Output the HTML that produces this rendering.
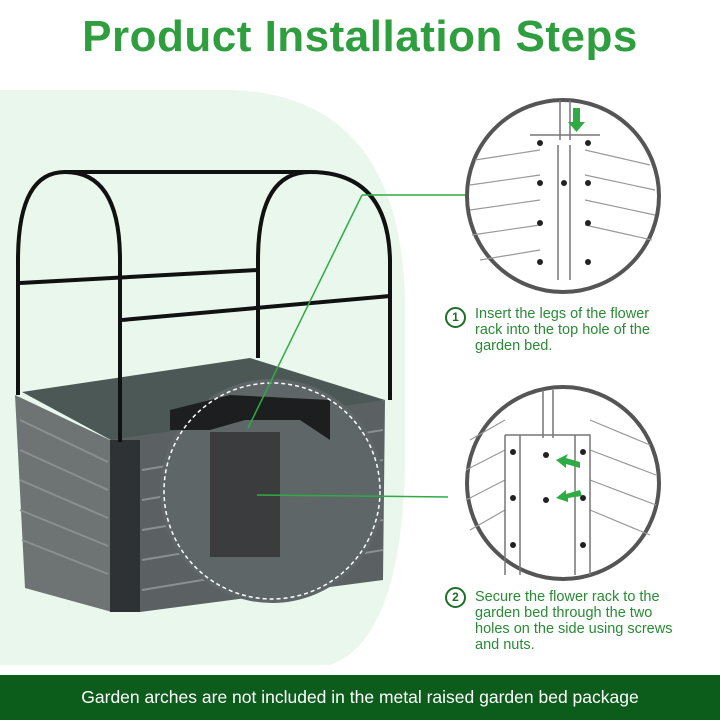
<!DOCTYPE html>
<html><head><meta charset="utf-8"><style>
body{margin:0;width:720px;height:720px;overflow:hidden;background:#fff;font-family:"Liberation Sans",sans-serif;position:relative}
.t{position:absolute;left:0;width:720px;top:12px;text-align:center;font-weight:bold;font-size:44px;color:#2e9e3e;letter-spacing:0.5px}
.s{position:absolute;left:475px;color:#2a8a35;font-size:14.5px;line-height:16px}
.n{position:absolute;left:445px;width:17px;height:17px;border:2px solid #1e6e28;border-radius:50%;color:#1e6e28;font-size:12px;font-weight:bold;text-align:center;line-height:17px}
.b{position:absolute;left:0;top:675px;width:720px;height:45px;background:#0c5c1c;color:#fff;font-size:17.5px;text-align:center;line-height:45px}
</style></head><body>
<svg width="720" height="720" style="position:absolute;left:0;top:0">
<path d="M0 90 H230 Q400 95 405 300 V470 Q400 640 330 665 H0 Z" fill="#eaf7ec"/>
<polygon points="22,392 250,358 385,400 120,445" fill="#4c5856"/>
<polygon points="15,395 110,440 112,612 25,588" fill="#6e7473"/>
<polygon points="110,440 385,400 383,580 140,612 112,612" fill="#5b6163"/>
<rect x="110" y="440" width="30" height="172" fill="#2f3234"/>
<g stroke="#8a8f90" stroke-width="2">
<line x1="20" y1="420" x2="108" y2="462"/><line x1="20" y1="450" x2="108" y2="490"/><line x1="20" y1="480" x2="108" y2="518"/><line x1="20" y1="510" x2="108" y2="546"/><line x1="22" y1="540" x2="108" y2="574"/>
<line x1="142" y1="470" x2="383" y2="430"/><line x1="142" y1="500" x2="383" y2="460"/><line x1="142" y1="530" x2="383" y2="490"/><line x1="142" y1="560" x2="383" y2="520"/><line x1="142" y1="590" x2="383" y2="550"/>
</g>
<g stroke="#111" stroke-width="4" fill="none">
<path d="M18 395 V260 Q18 172 65 172 Q120 172 120 260 V442"/>
<path d="M258 358 V260 Q258 172 310 172 Q388 172 390 260 V400"/>
<line x1="65" y1="172" x2="310" y2="172"/>
<line x1="20" y1="283" x2="258" y2="270"/>
<line x1="122" y1="320" x2="390" y2="296"/>
</g>
<circle cx="272" cy="491" r="112" fill="#5f6668"/>
<polygon points="170,430 210,430 245,420 300,420 330,440 330,400 230,395 170,410" fill="#1c1e20"/>
<rect x="210" y="432" width="70" height="125" fill="#3a3c3e"/>
<circle cx="272" cy="491" r="108" fill="none" stroke="#fff" stroke-width="1.5" stroke-dasharray="4 3"/>
<g stroke="#2eab45" stroke-width="1.5" fill="none">
<line x1="248" y1="428" x2="362" y2="195"/><line x1="362" y1="195" x2="465" y2="195"/>
<line x1="257" y1="495" x2="448" y2="497"/>
</g>
<circle cx="563" cy="196" r="96" fill="#fff" stroke="#555" stroke-width="4"/>
<circle cx="563" cy="483" r="96" fill="#fff" stroke="#555" stroke-width="4"/>
<g stroke="#999" stroke-width="1.2">
<line x1="475" y1="160" x2="540" y2="150"/><line x1="470" y1="185" x2="540" y2="175"/><line x1="470" y1="210" x2="540" y2="200"/><line x1="472" y1="235" x2="540" y2="225"/><line x1="480" y1="260" x2="540" y2="250"/>
<line x1="585" y1="150" x2="650" y2="165"/><line x1="585" y1="175" x2="655" y2="190"/><line x1="585" y1="200" x2="655" y2="215"/><line x1="585" y1="225" x2="652" y2="240"/>
<line x1="470" y1="440" x2="505" y2="420"/><line x1="466" y1="470" x2="505" y2="450"/><line x1="466" y1="500" x2="505" y2="480"/><line x1="470" y1="530" x2="505" y2="510"/>
<line x1="590" y1="420" x2="650" y2="445"/><line x1="590" y1="450" x2="656" y2="475"/><line x1="590" y1="480" x2="656" y2="505"/><line x1="590" y1="510" x2="650" y2="535"/>
</g>
<path d="M560 100 V140 M570 100 V140 M530 135 L600 135 M558 145 V280 M570 145 V280" stroke="#777" stroke-width="1.5" fill="none"/>
<path d="M505 435 H590 V575 M505 435 V575 M520 435 V575 M575 435 V575 M543 390 V438 M553 390 V438" stroke="#777" stroke-width="1.5" fill="none"/>
<g fill="#222">
<circle cx="540" cy="143" r="3"/><circle cx="588" cy="143" r="3"/><circle cx="540" cy="183" r="3"/><circle cx="588" cy="183" r="3"/><circle cx="564" cy="183" r="3"/><circle cx="540" cy="223" r="3"/><circle cx="588" cy="223" r="3"/><circle cx="540" cy="262" r="3"/><circle cx="588" cy="262" r="3"/>
<circle cx="513" cy="452" r="3"/><circle cx="583" cy="452" r="3"/><circle cx="546" cy="455" r="3"/><circle cx="513" cy="498" r="3"/><circle cx="583" cy="498" r="3"/><circle cx="546" cy="500" r="3"/><circle cx="513" cy="545" r="3"/><circle cx="583" cy="545" r="3"/>
</g>
<g fill="#2eab45">
<polygon points="573,108 580,108 580,122 585,122 576.5,132 568,122 573,122"/>
<polygon points="580,462 566,458 568,454 556,460 566,468 566,464 580,468"/>
<polygon points="580,490 566,494 566,490 556,498 568,502 568,498 582,496"/>
</g>
</svg>
<div class="t">Product Installation Steps</div>
<div class="n" style="top:307px">1</div>
<div class="s" style="top:306px">Insert the legs of the flower<br>rack into the top hole of the<br>garden bed.</div>
<div class="n" style="top:587px">2</div>
<div class="s" style="top:589px">Secure the flower rack to the<br>garden bed through the two<br>holes on the side using screws<br>and nuts.</div>
<div class="b">Garden arches are not included in the metal raised garden bed package</div>
</body></html>
